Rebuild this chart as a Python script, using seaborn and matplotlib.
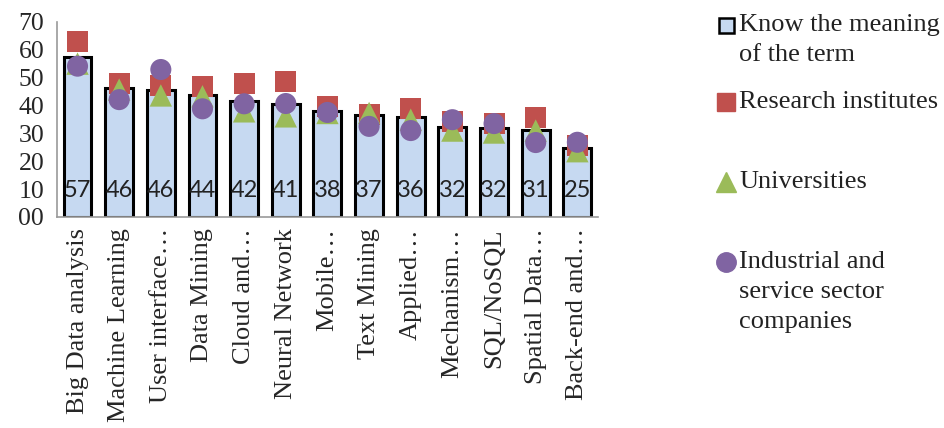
import numpy as np
import matplotlib
matplotlib.use('Agg')
import matplotlib.pyplot as plt
import seaborn as sns
from matplotlib.patches import Rectangle
from matplotlib.lines import Line2D

categories = ['Big Data analysis', 'Machine Learning', 'User interface…', 'Data Mining',
              'Cloud and…', 'Neural Network', 'Mobile…', 'Text Mining', 'Applied…',
              'Mechanism…', 'SQL/NoSQL', 'Spatial Data…', 'Back-end and…']
know_term = [57.3, 46.2, 45.7, 43.8, 41.7, 40.6, 38.1, 36.7, 35.9, 32.4, 31.8, 31.3, 24.6]
bar_labels = [57, 46, 46, 44, 42, 41, 38, 37, 36, 32, 32, 31, 25]
research = [62.8, 47.8, 47.2, 46.7, 47.9, 48.7, 39.5, 36.7, 39.0, 34.3, 33.7, 35.7, 25.5]
universities = [55.0, 45.7, 43.6, 43.3, 37.9, 36.1, 37.3, 37.3, 34.9, 31.0, 30.3, 31.0, 23.6]
industry = [54.1, 42.1, 52.9, 38.8, 40.6, 40.7, 37.5, 32.5, 31.0, 34.9, 33.5, 26.7, 26.8]
yticks = [0, 10, 20, 30, 40, 50, 60, 70]
ytick_labels = ['00', '10', '20', '30', '40', '50', '60', '70']
legend_labels = ['Know the meaning\nof the term', 'Research institutes', 'Universities',
                 'Industrial and\nservice sector\ncompanies']

bar_color = '#C6D9F1'
red = '#C0504D'
green = '#9BBB59'
purple = '#8064A2'
grey = '#9A9A9A'
serif = 'Liberation Serif'

sns.set_style('white')
plt.rcParams['font.family'] = ['Liberation Serif', 'DejaVu Sans']

W, H = 945, 428
fig = plt.figure(figsize=(W / 100, H / 100), dpi=100)
ax = fig.add_axes([0.060, 0.493, 0.573, 0.456])

pos = np.arange(len(categories))
sns.barplot(x=pos, y=know_term, color=bar_color, edgecolor='black', linewidth=2.2,
            width=0.67, saturation=1, ax=ax, native_scale=True)
sns.scatterplot(x=pos, y=research, marker='s', s=230, color=red, edgecolor='none', ax=ax, zorder=3)
sns.scatterplot(x=pos, y=universities, marker='^', s=260, color=green, edgecolor='none', ax=ax, zorder=4)
sns.scatterplot(x=pos, y=industry, marker='o', s=230, color=purple, edgecolor='none', ax=ax, zorder=5)

for i, v in enumerate(bar_labels):
    ax.text(pos[i], 9.5, str(v), ha='center', va='center', fontsize=17,
            family='Lato', color='#222222', zorder=6)

ax.set_xlim(-0.5, len(categories) - 0.5)
ax.set_ylim(0, 70)
ax.set_yticks(yticks)
ax.set_yticklabels(ytick_labels, fontsize=18.5, family=serif)
ax.set_xticks(pos)
ax.set_xticklabels(categories, rotation=90, fontsize=19, family=serif, va='top')
ax.set_xticks(np.arange(len(categories) + 1) - 0.5, minor=True)
ax.tick_params(axis='x', which='major', length=0, pad=8)
ax.tick_params(axis='x', which='minor', length=6, color=grey, width=1.2, direction='out')
ax.tick_params(axis='y', length=5, color=grey, width=1.2, direction='out', pad=4)
ax.set_xlabel('')
ax.set_ylabel('')
for side in ['top', 'right']:
    ax.spines[side].set_visible(False)
for side in ['left', 'bottom']:
    ax.spines[side].set_color(grey)
    ax.spines[side].set_linewidth(1.2)

# legend drawn by hand so markers line up with the first text line (Excel style)
mx, tx = 726, 739
entry_y = [25, 102, 182, 262]
line_h = 30
for k, (lab, y) in enumerate(zip(legend_labels, entry_y)):
    fx, fy = mx / W, 1 - y / H
    if k == 0:
        fig.add_artist(Rectangle((fx - 7.5 / W, fy - 7.5 / H), 15 / W, 15 / H,
                                 transform=fig.transFigure, facecolor=bar_color,
                                 edgecolor='black', linewidth=1.8))
    else:
        mk, col, ms = [('s', red, 13), ('^', green, 14), ('o', purple, 14)][k - 1]
        fig.add_artist(Line2D([fx], [fy], marker=mk, color=col, markersize=ms,
                              linestyle='none', transform=fig.transFigure))
    for j, line in enumerate(lab.split('\n')):
        fig.text(tx / W, 1 - (y + j * line_h) / H, line, fontsize=19, family=serif,
                 va='center', ha='left', color='#222222')

fig.savefig('out.png', dpi=100)
